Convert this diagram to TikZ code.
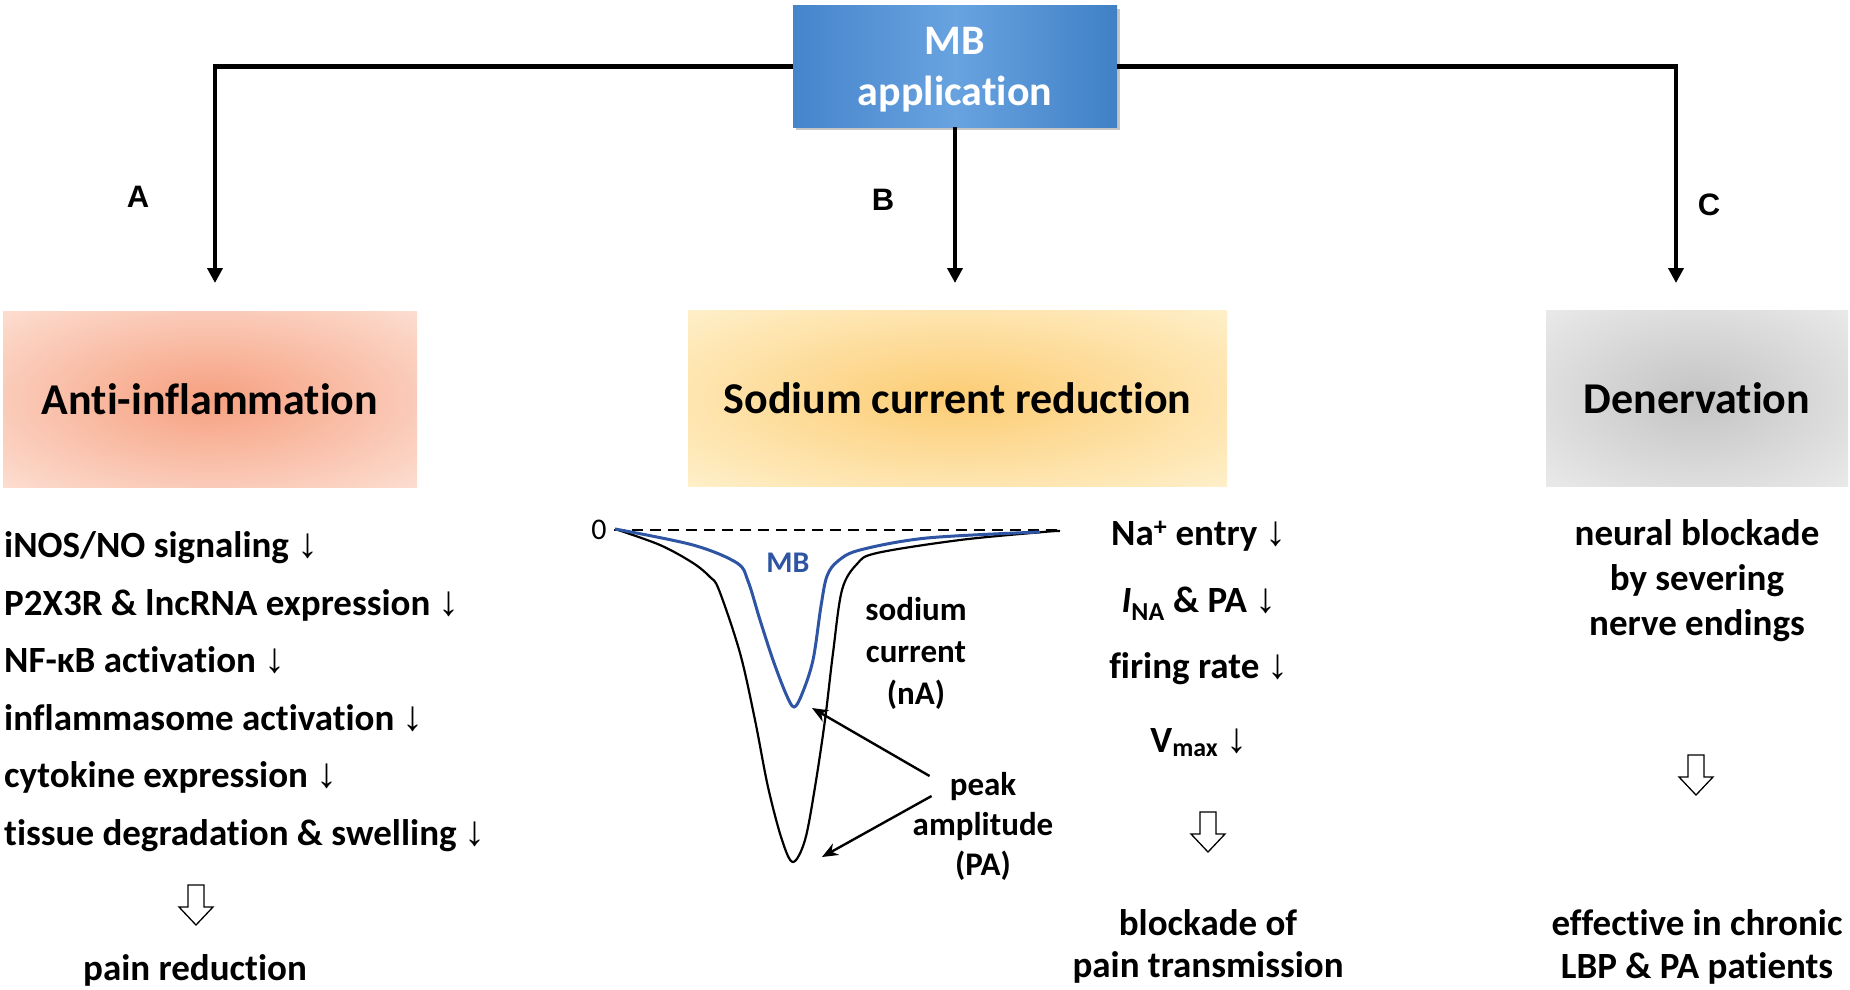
\documentclass[tikz,border=0pt]{standalone}
\usepackage{fontspec}
\setmainfont{Carlito}[Ligatures=NoCommon]
\newfontfamily\arialf{Liberation Sans}
\newcommand{\dnarr}{{\arialf\mdseries\fontsize{42}{40}\selectfont ↓}}
\usetikzlibrary{arrows.meta,shadows}
\definecolor{mbL}{RGB}{70,132,203}
\definecolor{mbM}{RGB}{104,163,224}
\definecolor{mbR}{RGB}{64,128,198}
\definecolor{aiIn}{RGB}{246,160,128}
\definecolor{aiOut}{RGB}{253,229,219}
\definecolor{naIn}{RGB}{252,204,116}
\definecolor{naOut}{RGB}{255,244,212}
\definecolor{dnIn}{RGB}{196,196,196}
\definecolor{dnOut}{RGB}{238,238,238}
\definecolor{mbblue}{RGB}{46,84,164}
\pgfdeclareradialshading{aishade}{\pgfpoint{0bp}{0bp}}{color(0bp)=(aiIn); color(40bp)=(aiOut); color(50bp)=(aiOut)}
\pgfdeclareradialshading{nashade}{\pgfpoint{0bp}{0bp}}{color(0bp)=(naIn); color(40bp)=(naOut); color(50bp)=(naOut)}
\pgfdeclareradialshading{dnshade}{\pgfpoint{0bp}{0bp}}{color(0bp)=(dnIn); color(40bp)=(dnOut); color(50bp)=(dnOut)}
\begin{document}
\begin{tikzpicture}[x=1pt,y=-1pt,
 conn/.style={line width=4.5pt,-{Triangle[width=15pt,length=15pt]}},
 parr/.style={line width=2.4pt,-{Stealth[width=13pt,length=16pt]}},
 effect/.style={inner sep=0pt, minimum height=176pt, shade, font=\fontsize{44}{50}\selectfont\bfseries},
 mbbox/.style={inner sep=0pt, minimum width=324pt, minimum height=121pt, left color=mbL, right color=mbR, middle color=mbM, drop shadow={shadow xshift=3pt, shadow yshift=-3pt, opacity=0.45}},
 mbtxt/.style={anchor=base, inner sep=0pt, text=white, font=\fontsize{42}{48}\selectfont\bfseries},
 lst/.style={anchor=base west, inner sep=0pt, font=\fontsize{37}{40}\selectfont\bfseries},
 ctr/.style={anchor=base, inner sep=0pt, font=\fontsize{37}{40}\selectfont\bfseries},
 glab/.style={anchor=base, inner sep=0pt, font=\fontsize{33}{38}\selectfont\bfseries},
 abc/.style={anchor=base, inner sep=0pt, font=\arialf\bfseries\fontsize{31}{36}\selectfont},
 hollow/.pic={\draw[line width=1.3pt, fill=white] (-8,0) -- (8,0) -- (8,22) -- (17,22) -- (0,40) -- (-17,22) -- (-8,22) -- cycle;}
]
\useasboundingbox (0,0) rectangle (1850,990);

% top box
\node[mbbox] (mb) at (955,66.5) {};
\node[mbtxt] (mbt1) at (955,55) {MB};
\node[mbtxt] (mbt2) at (955,106) {application};

% effect boxes
\node[effect, minimum width=414pt, shading=aishade] (ai) at (210,399) {Anti-inflammation};
\node[effect, minimum width=539pt, shading=nashade] (na) at (957.5,398) {Sodium current reduction};
\node[effect, minimum width=302pt, shading=dnshade] (dn) at (1697,398) {Denervation};

% connectors
\coordinate (ta) at (215,283);
\coordinate (tb) at (955,283);
\coordinate (tc) at (1676,283);
\draw[conn] (mb.west) -| (ta);
\draw[conn] (mb.south) -- (tb);
\draw[conn] (mb.east) -| (tc);
\node[abc] (la) at (138,207) {A};
\node[abc] (lb) at (883,210) {B};
\node[abc] (lc) at (1709,215) {C};

% left column
\node[lst] (l1) at (4,557) {iNOS/NO signaling \dnarr};
\node[lst] (l2) at (4,615) {P2X3R \& lncRNA expression \dnarr};
\node[lst] (l3) at (4,672) {NF-κB activation \dnarr};
\node[lst] (l4) at (4,730) {inflammasome activation \dnarr};
\node[lst] (l5) at (4,787) {cytokine expression \dnarr};
\node[lst] (l6) at (4,845) {tissue degradation \& swelling \dnarr};
\pic at (196,885) {hollow};
\node[ctr] (l7) at (195,980) {pain reduction};

% graph
\node[font=\fontsize{30}{34}\selectfont, inner sep=0pt] (zero) at (599,530) {0};
\coordinate (dashend) at (1062,530);
\draw[line width=2pt, dash pattern=on 11pt off 7pt] ([xshift=7pt]zero.east) -- (dashend);
\draw[line width=2.2pt] plot[smooth, tension=0.55] coordinates {(615,529) (660,545) (693,563) (710,577) (719,590) (740,653) (755,720) (768,787) (782,840) (793,862) (805,840) (815,787) (825,720) (833,653) (842,590) (857,564) (877,553) (960,540) (1043,532) (1060,531)};
\draw[line width=3pt, mbblue] plot[smooth, tension=0.55] coordinates {(615,529) (693,545) (737,563) (748,581) (760,620) (773,660) (786,694) (794,707) (802,694) (813,660) (821,606) (827,576) (838,561) (860,550) (927,538) (1040,532)};
\node[glab, text=mbblue, font=\fontsize{30}{34}\selectfont\bfseries] (mbl) at (788,572) {MB};
\node[glab] (g1) at (916,620) {sodium};
\node[glab] (g2) at (916,662) {current};
\node[glab] (g3) at (916,704) {(nA)};
\node[glab] (peak) at (983,795) {peak};
\node[glab] (g5) at (983,835) {amplitude};
\node[glab] (g6) at (983,875) {(PA)};
\coordinate (pk1) at (812,708);
\coordinate (pk2) at (822,857);
\draw[parr] ([shift={(-20,-10)}]peak.west) -- (pk1);
\draw[parr] ([shift={(-18,10)}]peak.west) -- (pk2);

% middle column
\node[ctr] (m1) at (1199,545) {Na\textsuperscript{+} entry \dnarr};
\node[ctr] (m2) at (1199,612) {\textit{I}\textsubscript{NA} \& PA \dnarr};
\node[ctr] (m3) at (1199,678) {firing rate \dnarr};
\node[ctr] (m4) at (1199,752) {V\textsubscript{max} \dnarr};
\pic at (1208,812) {hollow};
\node[ctr] (m5) at (1208,935) {blockade of};
\node[ctr] (m6) at (1208,977) {pain transmission};

% right column
\node[ctr] (r1) at (1697,545) {neural blockade};
\node[ctr] (r2) at (1697,590) {by severing};
\node[ctr] (r3) at (1697,635) {nerve endings};
\pic at (1696,755) {hollow};
\node[ctr] (r4) at (1697,935) {effective in chronic};
\node[ctr] (r5) at (1697,978) {LBP \& PA patients};
\end{tikzpicture}
\end{document}
